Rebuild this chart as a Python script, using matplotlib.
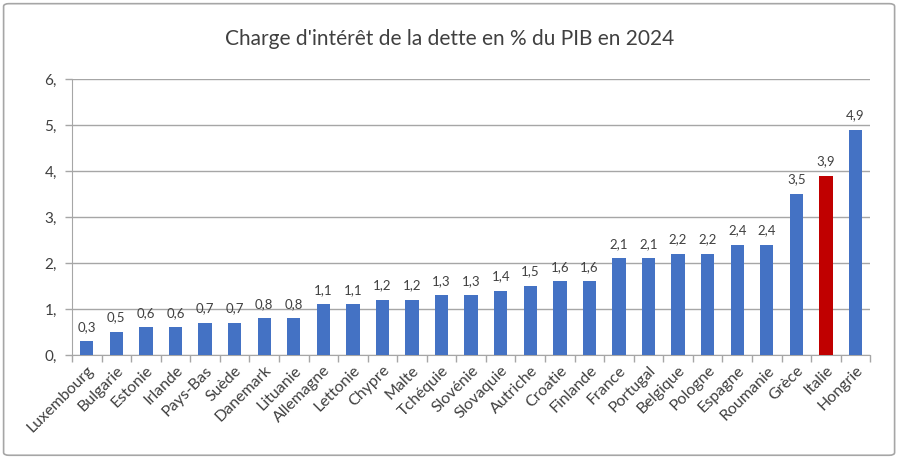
import matplotlib.pyplot as plt
from matplotlib.patches import FancyBboxPatch

plt.rcParams["font.family"] = ["Lato", "DejaVu Sans"]

# Data
pays = ["Luxembourg", "Bulgarie", "Estonie", "Irlande", "Pays-Bas", "Suède",
        "Danemark", "Lituanie", "Allemagne", "Lettonie", "Chypre", "Malte",
        "Tchéquie", "Slovénie", "Slovaquie", "Autriche", "Croatie", "Finlande",
        "France", "Portugal", "Belgique", "Pologne", "Espagne", "Roumanie",
        "Grèce", "Italie", "Hongrie"]
valeurs = [0.3, 0.5, 0.6, 0.6, 0.7, 0.7, 0.8, 0.8, 1.1, 1.1, 1.2, 1.2,
           1.3, 1.3, 1.4, 1.5, 1.6, 1.6, 2.1, 2.1, 2.2, 2.2, 2.4, 2.4,
           3.5, 3.9, 4.9]
y_ticks = [0, 1, 2, 3, 4, 5, 6]

bleu = "#4472C4"
rouge = "#C00000"
texte = "#404040"
couleurs = [rouge if p == "Italie" else bleu for p in pays]

fig = plt.figure(figsize=(9, 4.58), dpi=100)
ax = fig.add_axes([0.08, 0.225, 0.887, 0.6025])

x = list(range(len(pays)))
ax.bar(x, valeurs, width=0.45, color=couleurs, zorder=3)

for xi, v in zip(x, valeurs):
    ax.annotate(f"{v:.1f}".replace(".", ","), (xi, v), xytext=(0, 6),
                textcoords="offset points", ha="center", va="bottom",
                fontsize=9.5, color=texte)

ax.set_xlim(-0.5, len(pays) - 0.5)
ax.set_ylim(0, 6)
ax.set_yticks(y_ticks)
ax.set_yticklabels([f"{t}," for t in y_ticks], fontsize=11, color=texte)
ax.yaxis.grid(True, color="#A6A6A6", linewidth=1, zorder=0)

ax.set_xticks(x)
ax.set_xticklabels(pays, rotation=45, ha="right", rotation_mode="anchor",
                   fontsize=11.5, color=texte)
ax.tick_params(axis="x", length=0, pad=6)
ax.set_xticks([i - 0.5 for i in range(len(pays) + 1)], minor=True)
ax.tick_params(axis="x", which="minor", length=5, color="#A6A6A6", width=1)
ax.tick_params(axis="y", length=5, color="#A6A6A6", width=1, pad=6)

for s in ["top", "right"]:
    ax.spines[s].set_visible(False)
ax.spines["left"].set_color("#A6A6A6")
ax.spines["bottom"].set_color("#A6A6A6")

fig.text(0.5, 0.915, "Charge d'intérêt de la dette en % du PIB en 2024",
         ha="center", va="center", fontsize=15, color=texte)

border = FancyBboxPatch((0.004, 0.006), 0.99, 0.986, transform=fig.transFigure,
                        boxstyle="round,pad=0,rounding_size=0.006",
                        fill=False, edgecolor="#A6A6A6", linewidth=1.2)
fig.patches.append(border)

fig.savefig("out.png", dpi=100)
